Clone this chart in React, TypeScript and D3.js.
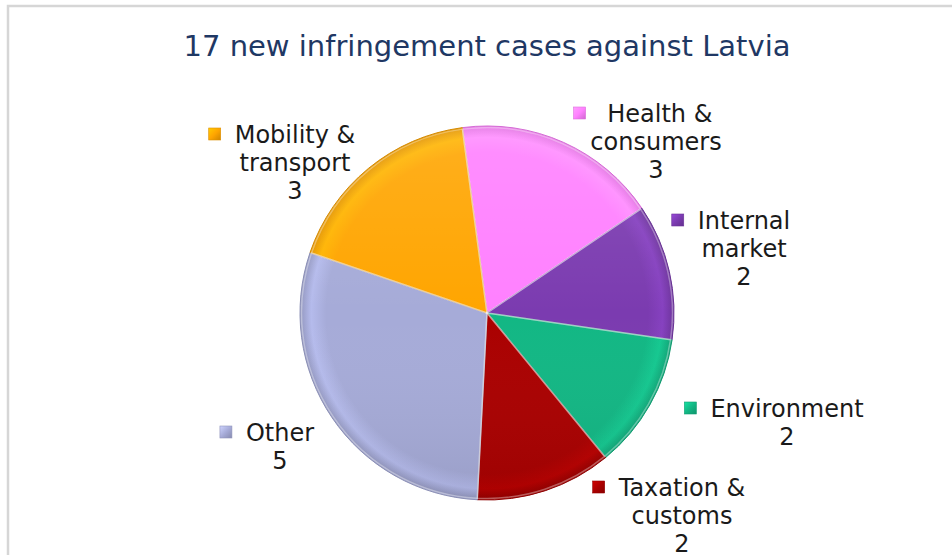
import React, { useEffect, useRef } from "react";
import * as d3 from "d3";

const W = 952;
const H = 555;

const categories = [
  "Health & consumers",
  "Internal market",
  "Environment",
  "Taxation & customs",
  "Other",
  "Mobility & transport",
];
const values = [3, 2, 2, 2, 5, 3];
const colors = ["#ff80ff", "#7b3bb0", "#12b784", "#aa0000", "#a6abd8", "#ffa500"];
const labelLines = [
  [" Health &", "consumers"],
  ["Internal", "market"],
  ["Environment"],
  ["Taxation &", "customs"],
  ["Other"],
  ["Mobility &", "transport"],
];
const title = "17 new infringement cases against Latvia";

// layout (label block centre x, first baseline y)
const labelLayout = [
  { cx: 656, y0: 122 },
  { cx: 744, y0: 229 },
  { cx: 787, y0: 417 },
  { cx: 682, y0: 496 },
  { cx: 280, y0: 441 },
  { cx: 295, y0: 143 },
];

export default function App() {
  const ref = useRef<SVGSVGElement>(null);

  useEffect(() => {
    const svg = d3.select(ref.current);
    svg.selectAll("*").remove();
    const font = "'DejaVu Sans', Verdana, sans-serif";

    const defs = svg.append("defs");

    svg
      .append("rect")
      .attr("x", 0)
      .attr("y", 0)
      .attr("width", W)
      .attr("height", H)
      .attr("fill", "#ffffff");
    svg
      .append("rect")
      .attr("x", 8)
      .attr("y", 6)
      .attr("width", 1200)
      .attr("height", 1200)
      .attr("fill", "#ffffff")
      .attr("stroke", "#d6d6d6")
      .attr("stroke-width", 2.5);

    svg
      .append("text")
      .attr("x", 487)
      .attr("y", 56)
      .attr("text-anchor", "middle")
      .attr("font-family", font)
      .attr("font-size", 29)
      .attr("fill", "#1f3864")
      .text(title);

    const cx = 487;
    const cy = 313;
    const R = 187;
    const start = (-7.6 * Math.PI) / 180;

    const data = categories.map((c, i) => ({ c, v: values[i], i }));
    const pie = d3
      .pie<any>()
      .sort(null)
      .value((d) => d.v)
      .startAngle(start)
      .endAngle(start + 2 * Math.PI);
    const arcs = pie(data);
    const arc = d3.arc<any>().innerRadius(0).outerRadius(R);

    // gradients
    colors.forEach((col, i) => {
      const g = defs
        .append("radialGradient")
        .attr("id", "sg" + i)
        .attr("gradientUnits", "userSpaceOnUse")
        .attr("cx", cx)
        .attr("cy", cy)
        .attr("r", R);
      const base = d3.color(col)!;
      g.append("stop").attr("offset", "0").attr("stop-color", base.toString());
      g.append("stop").attr("offset", "0.86").attr("stop-color", base.toString());
      g.append("stop").attr("offset", "0.94").attr("stop-color", base.brighter(0.25).toString());
      g.append("stop").attr("offset", "1").attr("stop-color", base.darker(0.35).toString());

      const m = defs
        .append("linearGradient")
        .attr("id", "mg" + i)
        .attr("x1", "0")
        .attr("y1", "0")
        .attr("x2", "1")
        .attr("y2", "1");
      m.append("stop").attr("offset", "0").attr("stop-color", base.brighter(0.6).toString());
      m.append("stop").attr("offset", "0.5").attr("stop-color", base.toString());
      m.append("stop").attr("offset", "1").attr("stop-color", base.darker(0.6).toString());
    });

    const lightG = defs
      .append("linearGradient")
      .attr("id", "light")
      .attr("gradientUnits", "userSpaceOnUse")
      .attr("x1", cx)
      .attr("y1", cy - R)
      .attr("x2", cx)
      .attr("y2", cy + R);
    lightG.append("stop").attr("offset", "0").attr("stop-color", "#ffffff").attr("stop-opacity", 0.12);
    lightG.append("stop").attr("offset", "0.5").attr("stop-color", "#ffffff").attr("stop-opacity", 0);
    lightG.append("stop").attr("offset", "1").attr("stop-color", "#000000").attr("stop-opacity", 0.08);

    const pg = svg.append("g").attr("transform", `translate(${cx},${cy})`);
    pg.selectAll("path.slice")
      .data(arcs)
      .join("path")
      .attr("class", "slice")
      .attr("d", arc as any)
      .attr("transform", `translate(${-cx},${-cy})`)
      .attr("transform", null)
      .attr("fill", (d: any) => `url(#sg${d.data.i})`)
      .attr("stroke", (d: any) => d3.color(colors[d.data.i])!.darker(0.5).toString())
      .attr("stroke-width", 1);

    // shift gradient coords: gradients are in userSpace of the path's coordinate system
    defs.selectAll("radialGradient").attr("cx", 0).attr("cy", 0);
    lightG.attr("x1", 0).attr("y1", -R).attr("x2", 0).attr("y2", R);

    pg.selectAll("path.hl")
      .data(arcs)
      .join("path")
      .attr("class", "hl")
      .attr("d", d3.arc<any>().innerRadius(0).outerRadius(R - 1.5) as any)
      .attr("fill", "url(#light)")
      .attr("stroke", "#ffffff")
      .attr("stroke-opacity", 0.35)
      .attr("stroke-width", 1.5);

    // labels
    const lg = svg.append("g").attr("font-family", font).attr("font-size", 24).attr("fill", "#1a1a1a");
    labelLines.forEach((lines, i) => {
      const L = labelLayout[i];
      const t = lg
        .append("text")
        .attr("text-anchor", "middle")
        .style("white-space", "pre");
      const all = [...lines, String(values[i])];
      all.forEach((ln, k) => {
        t.append("tspan")
          .attr("x", L.cx)
          .attr("y", L.y0 + k * 28)
          .text(ln);
      });
      const first = t.select("tspan").node() as SVGTSpanElement;
      const w = first.getComputedTextLength();
      const left = L.cx - w / 2;
      lg.append("rect")
        .attr("x", left - 14 - 12)
        .attr("y", L.y0 - 15)
        .attr("width", 12)
        .attr("height", 12)
        .attr("fill", `url(#mg${i})`)
        .attr("stroke", d3.color(colors[i])!.darker(0.4).toString())
        .attr("stroke-width", 0.6);
    });
  }, []);

  return (
    <svg
      ref={ref}
      width={W}
      height={H}
      style={{ position: "absolute", left: 0, top: 0 }}
    />
  );
}
